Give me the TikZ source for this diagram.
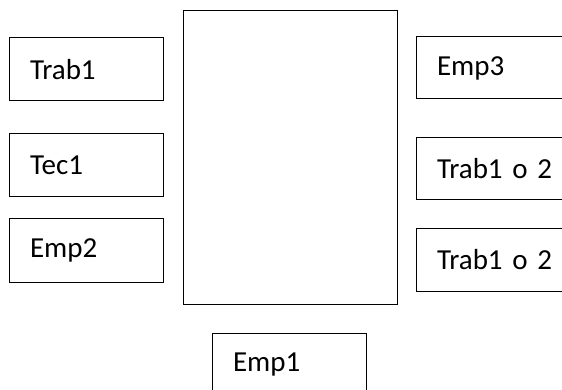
\documentclass[tikz,border=0pt]{standalone}
\usepackage{fontspec}
\setmainfont{Carlito}
\usepackage{tikz}

\begin{document}
\begin{tikzpicture}[x=1pt,y=-1pt,
    entity/.style={draw, line width=1pt, minimum width=154pt, minimum height=63pt,
        inner xsep=21pt, text width=112pt, align=left,
        font=\fontsize{29}{34}\selectfont}]
    \useasboundingbox (0,0) rectangle (562,390);

    % Left column
    \node[entity] (trab) at (86,69.5) {Trab1};
    \node[entity] (tec) at (86,165.5) {Tec1};
    \node[entity] (emptwo) at (86,250.5) {Emp2};

    % Centre
    \node[draw, line width=1pt, minimum width=214pt, minimum height=293pt] (centre) at (290,157.5) {};

    % Right column
    \node[entity, minimum height=62pt] (empthree) at (493,68) {Emp3};
    \node[entity, minimum height=62pt] (trabA) at (493,169) {Trab1~o~2};
    \node[entity] (trabB) at (493,259.5) {Trab1~o~2};

    % Bottom
    \node[entity] (empone) at (289,364.5) {Emp1};
\end{tikzpicture}
\end{document}
